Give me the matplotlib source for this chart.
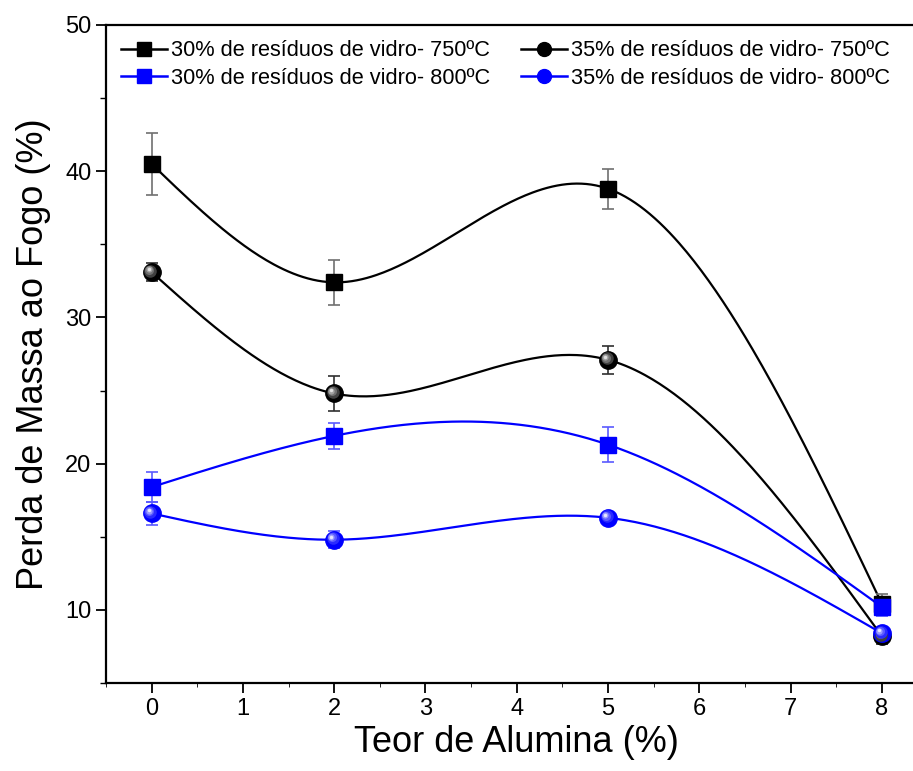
import numpy as np
import matplotlib
matplotlib.use("Agg")
from matplotlib import pyplot as plt
from matplotlib import transforms as mtransforms
from matplotlib.ticker import MultipleLocator

plt.rcParams['font.family'] = ['Liberation Sans', 'DejaVu Sans']

# data
alumina = [0, 2, 5, 8]
v30_750 = [40.5, 32.4, 38.8, 10.4]
e30_750 = [2.1, 1.55, 1.35, 0.7]
v35_750 = [33.1, 24.8, 27.1, 8.2]
e35_750 = [0.6, 1.2, 0.95, 0.5]
v30_800 = [18.4, 21.9, 21.3, 10.2]
e30_800 = [1.05, 0.9, 1.2, 0.6]
v35_800 = [16.6, 14.8, 16.3, 8.4]
e35_800 = [0.8, 0.6, 0.35, 0.4]
labels = ["30% de resíduos de vidro- 750ºC", "35% de resíduos de vidro- 750ºC",
          "30% de resíduos de vidro- 800ºC", "35% de resíduos de vidro- 800ºC"]


def natural_spline(x, y, n=300):
    # natural cubic spline through the points (smooth line like Origin)
    x = np.asarray(x, float)
    y = np.asarray(y, float)
    k = len(x)
    h = np.diff(x)
    A = np.zeros((k, k))
    b = np.zeros(k)
    A[0, 0] = 1
    A[-1, -1] = 1
    for i in range(1, k - 1):
        A[i, i - 1] = h[i - 1]
        A[i, i] = 2 * (h[i - 1] + h[i])
        A[i, i + 1] = h[i]
        b[i] = 3 * ((y[i + 1] - y[i]) / h[i] - (y[i] - y[i - 1]) / h[i - 1])
    c = np.linalg.solve(A, b)
    xs = np.linspace(x[0], x[-1], n)
    ys = np.zeros_like(xs)
    for j, xv in enumerate(xs):
        i = min(np.searchsorted(x, xv, side='right') - 1, k - 2)
        d = xv - x[i]
        bi = (y[i + 1] - y[i]) / h[i] - h[i] * (2 * c[i] + c[i + 1]) / 3
        di = (c[i + 1] - c[i]) / (3 * h[i])
        ys[j] = y[i] + bi * d + c[i] * d ** 2 + di * d ** 3
    return xs, ys


fig = plt.figure(figsize=(9.13, 7.71), dpi=100)
ax = fig.add_axes([0.116, 0.1141, 0.90, 0.8535])

series = [
    (v30_750, e30_750, 'black', 's', '#707070'),
    (v35_750, e35_750, 'black', 'o', '#303030'),
    (v30_800, e30_800, 'blue', 's', '#5a5aff'),
    (v35_800, e35_800, 'blue', 'o', '#5a5aff'),
]

# smooth lines first
for vals, errs, col, mk, ecol in series:
    xs, ys = natural_spline(alumina, vals)
    ax.plot(xs, ys, color=col, lw=1.6, zorder=2)

handles = []
for vals, errs, col, mk, ecol in series:
    ax.errorbar(alumina, vals, yerr=errs, fmt='none', ecolor=ecol,
                elinewidth=1.2, capsize=4, capthick=1.2, zorder=3)
    if mk == 's':
        ax.plot(alumina, vals, ls='none', marker='s', ms=11.5, color=col, zorder=4)
    else:
        ax.plot(alumina, vals, ls='none', marker='o', ms=12.5, color=col, zorder=4)
        # shiny highlight on the ball markers
        shades = ['#404040', '#707070', '#a0a0a0', '#e0e0e0'] if col == 'black' else \
                 ['#2a2aff', '#5c5cff', '#9a9aff', '#e6e6ff']
        sizes = [9, 6.5, 4.5, 2.5]
        for sh, sz, off in zip(shades, sizes, [1.0, 1.6, 2.0, 2.2]):
            tr = mtransforms.offset_copy(ax.transData, fig=fig, x=-off, y=off, units='points')
            ax.plot(alumina, vals, ls='none', marker='o', ms=sz, color=sh,
                    mec='none', transform=tr, zorder=5)
    h, = ax.plot([], [], color=col, lw=1.8, marker=mk, ms=10, mec=col)
    handles.append(h)

# legend fills column-wise, so reorder to get 750 on the first row
order = [0, 2, 1, 3]
ax.legend([handles[i] for i in order], [labels[i] for i in order],
          loc='upper left', ncol=2, frameon=False,
          fontsize=15.7, handlelength=2.1, handletextpad=0.2, columnspacing=1.4,
          labelspacing=0.3, borderaxespad=0.3, bbox_to_anchor=(0.0, 1.0))

ax.set_xlim(-0.5, 8.5)
ax.set_ylim(5, 50)
ax.xaxis.set_major_locator(MultipleLocator(1))
ax.xaxis.set_minor_locator(MultipleLocator(0.5))
ax.yaxis.set_major_locator(MultipleLocator(10))
ax.yaxis.set_minor_locator(MultipleLocator(5))
ax.tick_params(which='major', direction='out', length=7, width=1.3, labelsize=17,
               top=False, right=False)
ax.tick_params(which='minor', direction='out', length=4, width=1.0, top=False, right=False)
ax.tick_params(axis='x', which='minor', length=3, width=0.6)
for sp in ax.spines.values():
    sp.set_linewidth(1.6)
ax.spines['right'].set_visible(False)

ax.set_xlabel("Teor de Alumina (%)", fontsize=26, labelpad=4)
ax.set_ylabel("Perda de Massa ao Fogo (%)", fontsize=26, labelpad=10)

fig.savefig("out.png", dpi=100)
